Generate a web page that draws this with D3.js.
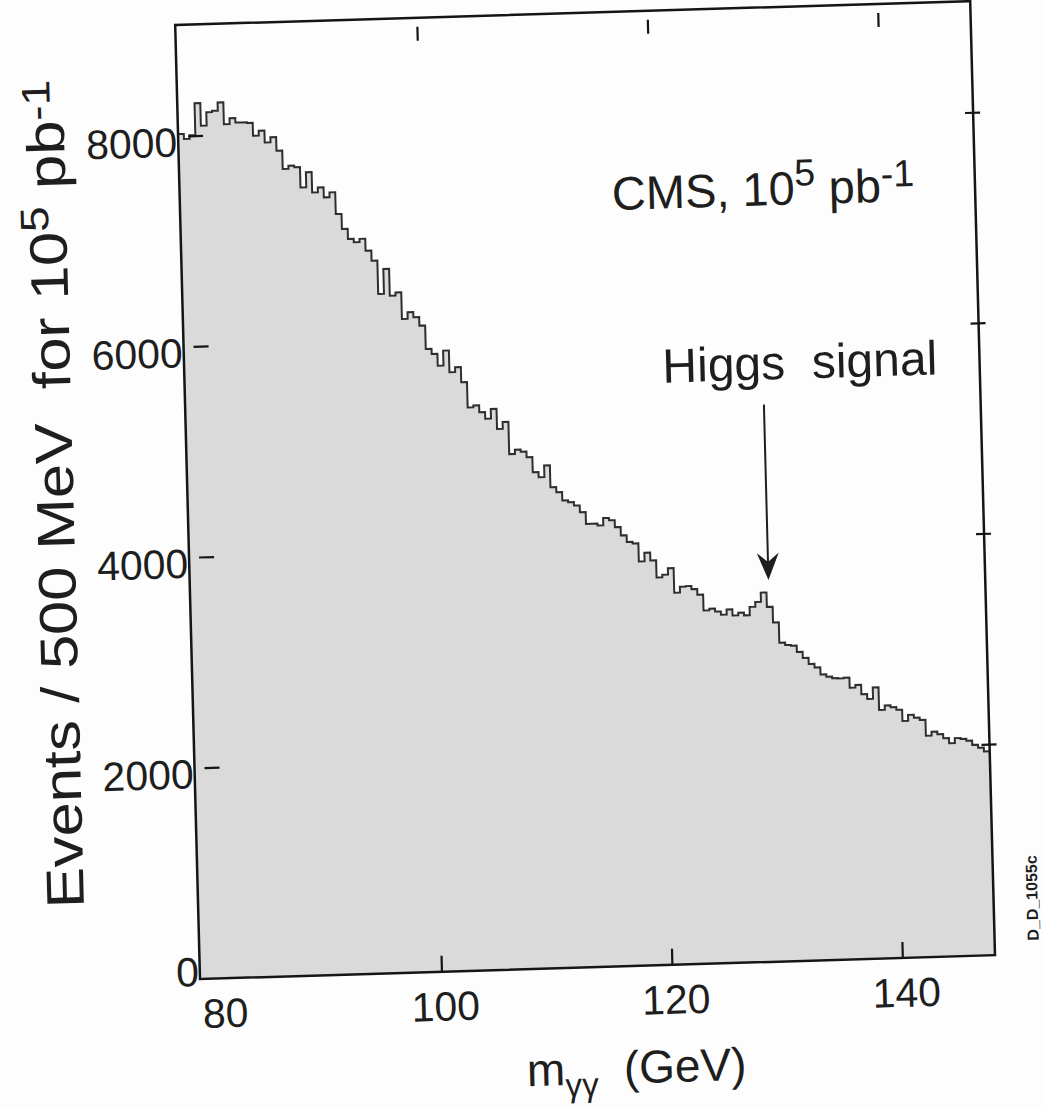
<!DOCTYPE html>
<html>
<head>
<meta charset="utf-8">
<script src="https://cdn.jsdelivr.net/npm/d3@7"></script>
<style>
  body { margin: 0; background: #fff; }
  text { font-family: "Liberation Sans", Arial, sans-serif; fill: #1e1e1e; white-space: pre; }
</style>
</head>
<body>
<div class="main"></div>
<script>
const w = 1044;
const h = 1107;
const plotW = 795;
const plotH = 954;

// m_gg histogram, 0.5 GeV bins starting at 79 GeV
const binStart = 79;
const binWidth = 0.5;
const counts = [
  8024, 7976, 8010, 8313, 8097, 8223, 8235, 8312, 8105, 8159,
  8117, 8117, 8110, 7987, 8032, 7920, 7967, 7838, 7663, 7692,
  7676, 7483, 7625, 7432, 7478, 7382, 7428, 7220, 7077, 6980,
  6947, 6978, 6864, 6768, 6450, 6686, 6430, 6460, 6205, 6268,
  6219, 6138, 5914, 5865, 5752, 5894, 5687, 5733, 5589, 5348,
  5364, 5298, 5235, 5326, 5135, 5200, 4893, 4933, 4912, 4858,
  4715, 4665, 4775, 4567, 4517, 4437, 4419, 4386, 4322, 4209,
  4209, 4190, 4259, 4236, 4170, 4090, 4026, 4009, 3837, 3919,
  3843, 3680, 3705, 3765, 3530, 3585, 3590, 3560, 3505, 3354,
  3369, 3340, 3308, 3357, 3298, 3323, 3296, 3375, 3420, 3507,
  3370, 3220, 3027, 3002, 2995, 2934, 2875, 2816, 2782, 2713,
  2690, 2675, 2670, 2676, 2580, 2603, 2514, 2467, 2575, 2360,
  2401, 2382, 2356, 2248, 2305, 2277, 2253, 2102, 2139, 2112,
  2074, 2024, 2071, 2062, 2043, 2002, 1973, 1936
];

const xDomain = [79, 148];
const yDomain = [0, 9060];
const xTicks = [100, 120, 140];
const xTickLabels = [80, 100, 120, 140];
const yTicks = [2000, 4000, 6000, 8000];
const yTickLabels = [0, 2000, 4000, 6000, 8000];

// Higgs arrow: mass, top and tip of arrow (events)
const higgsMass = 129.2;
const arrowFrom = 5290;
const arrowTo = 3625;

const svg = d3.select('.main').append('svg').attr('width', w).attr('height', h);
svg.append('rect').attr('width', w).attr('height', h).attr('fill', '#fdfdfd');

// the scanned page is slightly rotated / sheared
const g = svg
  .append('g')
  .attr('transform', 'matrix(1,-0.03,0.026,1,200,979) translate(0,' + -plotH + ')');

const x = d3.scaleLinear().domain(xDomain).range([0, plotW]);
const y = d3.scaleLinear().domain(yDomain).range([plotH, 0]);

const bins = counts.map((c, i) => ({ m: binStart + i * binWidth, c: c }));
bins.push({ m: binStart + counts.length * binWidth, c: counts[counts.length - 1] });

const area = d3
  .area()
  .curve(d3.curveStepAfter)
  .x((d) => x(d.m))
  .y0(y(0))
  .y1((d) => y(d.c));

const line = d3
  .line()
  .curve(d3.curveStepAfter)
  .x((d) => x(d.m))
  .y((d) => y(d.c));

g.append('path').attr('d', area(bins)).attr('fill', '#dadada');
g.append('path')
  .attr('d', line(bins))
  .attr('fill', 'none')
  .attr('stroke', '#2e2e2e')
  .attr('stroke-width', 2);

// frame
g.append('rect')
  .attr('width', plotW)
  .attr('height', plotH)
  .attr('fill', 'none')
  .attr('stroke', '#151515')
  .attr('stroke-width', 2.5);

// ticks
const ticks = g.append('g').attr('stroke', '#151515').attr('stroke-width', 2.2);
yTicks.forEach(function (v) {
  ticks.append('line').attr('x1', 10).attr('x2', 25).attr('y1', y(v)).attr('y2', y(v));
  ticks.append('line').attr('x1', plotW - 8).attr('x2', plotW + 7).attr('y1', y(v)).attr('y2', y(v));
});
xTicks.forEach(function (v) {
  ticks.append('line').attr('x1', x(v)).attr('x2', x(v)).attr('y1', plotH - 16).attr('y2', plotH);
  ticks.append('line').attr('x1', x(v)).attr('x2', x(v)).attr('y1', 9).attr('y2', 23);
});

// tick labels
const labelSize = 41;
xTickLabels.forEach(function (v) {
  const half = (String(v).length * 0.556 * labelSize) / 2;
  const cx = Math.max(x(v) + 3, half + 2);
  g.append('text')
    .attr('x', cx)
    .attr('y', plotH + 49)
    .attr('text-anchor', 'middle')
    .attr('font-size', labelSize)
    .text(v);
});
yTickLabels.forEach(function (v) {
  g.append('text')
    .attr('x', -1)
    .attr('y', Math.min(y(v) + 20, plotH + 7))
    .attr('text-anchor', 'end')
    .attr('font-size', labelSize)
    .text(v);
});

// axis titles
const yTitle = g
  .append('text')
  .attr('transform', 'translate(-114,465) rotate(-90) scale(1.16,1)')
  .attr('text-anchor', 'middle')
  .attr('font-size', 53);
yTitle.append('tspan').text('Events / 500 MeV  for 10');
yTitle.append('tspan').attr('dy', '-0.45em').attr('font-size', '0.75em').text('5');
yTitle.append('tspan').attr('dy', '0.34em').text(' pb');
yTitle.append('tspan').attr('dy', '-0.34em').attr('font-size', '0.75em').text('-1');

const xTitle = g
  .append('text')
  .attr('x', 434)
  .attr('y', plotH + 117)
  .attr('text-anchor', 'middle')
  .attr('font-size', 46);
xTitle.append('tspan').text('m');
xTitle.append('tspan').attr('dy', '0.35em').attr('font-size', '0.72em').text('γγ');
xTitle.append('tspan').attr('dy', '-0.25em').text('  (GeV)');

// labels inside the frame
const cms = g.append('text').attr('x', 432).attr('y', 198).attr('font-size', 47);
cms.append('tspan').text('CMS, 10');
cms.append('tspan').attr('dy', '-0.5em').attr('font-size', '0.8em').text('5');
cms.append('tspan').attr('dy', '0.4em').text(' pb');
cms.append('tspan').attr('dy', '-0.4em').attr('font-size', '0.8em').text('-1');

g.append('text').attr('x', 478).attr('y', 372).attr('font-size', 48).text('Higgs  signal');

// arrow
const ax = x(higgsMass);
const tipY = y(arrowTo);
g.append('line')
  .attr('x1', ax)
  .attr('x2', ax)
  .attr('y1', y(arrowFrom))
  .attr('y2', tipY - 15)
  .attr('stroke', '#1e1e1e')
  .attr('stroke-width', 2);
g.append('path')
  .attr(
    'd',
    'M' + ax + ',' + tipY +
      'L' + (ax - 11) + ',' + (tipY - 27) +
      'L' + ax + ',' + (tipY - 18) +
      'L' + (ax + 11) + ',' + (tipY - 27) + 'Z'
  )
  .attr('fill', '#1e1e1e');

// plot id
g.append('text')
  .attr('transform', 'translate(' + (plotW + 44) + ',' + (plotH - 56) + ') rotate(-90)')
  .attr('text-anchor', 'middle')
  .attr('font-size', 16)
  .attr('font-weight', 'bold')
  .text('D_D_1055c');
</script>
</body>
</html>
